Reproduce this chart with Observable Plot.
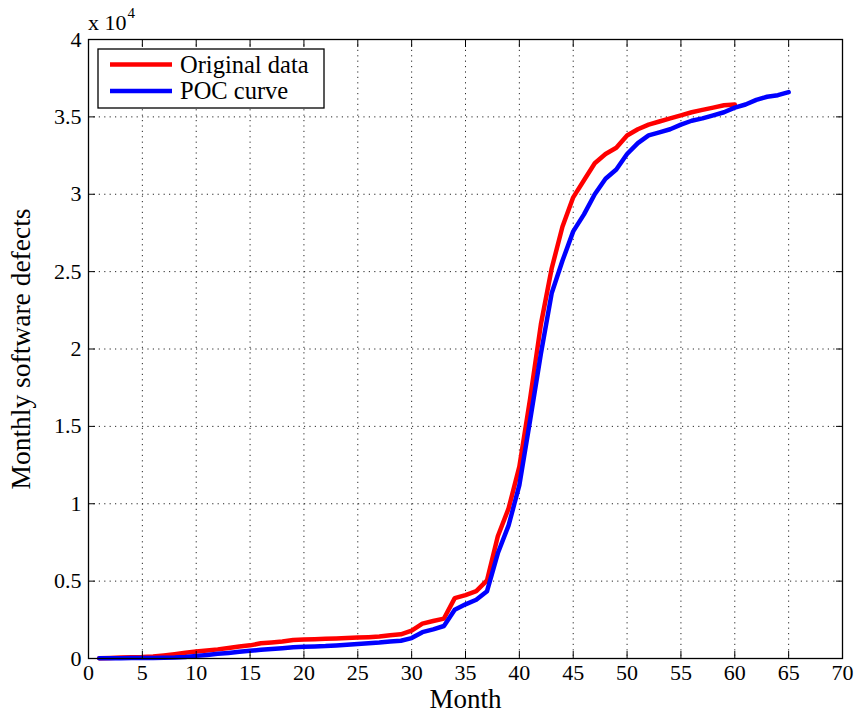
<!DOCTYPE html>
<html><head><meta charset="utf-8">
<script src="https://cdn.jsdelivr.net/npm/d3@7"></script>
<script src="https://cdn.jsdelivr.net/npm/@observablehq/plot@0.6"></script>
<style>body{margin:0;background:#fff}#chart{width:857px;height:714px}</style>
</head><body><div id="chart"></div>
<script>
const monthsOriginal = d3.range(1, 61);
const originalData = [20, 40, 60, 75, 90, 130, 200, 280, 370, 450,
  520, 590, 680, 770, 850, 980, 1040, 1100, 1190, 1220,
  1240, 1270, 1290, 1320, 1350, 1380, 1420, 1500, 1560, 1800,
  2250, 2420, 2580, 3900, 4100, 4350, 5050, 7900, 9700, 12400,
  16800, 21600, 25200, 27900, 29800, 30900, 32000, 32600, 33000, 33800,
  34200, 34500, 34700, 34900, 35100, 35300, 35450, 35600, 35750, 35800];
const monthsPOC = d3.range(1, 66);
const pocCurve = [10, 15, 20, 25, 30, 40, 50, 60, 100, 170,
  230, 300, 360, 430, 500, 560, 610, 660, 720, 760,
  780, 800, 840, 890, 940, 980, 1030, 1100, 1150, 1320,
  1700, 1880, 2100, 3150, 3500, 3800, 4350, 6800, 8600, 11200,
  15400, 19700, 23600, 25700, 27600, 28700, 30000, 31000, 31600, 32600,
  33300, 33800, 34000, 34200, 34500, 34750, 34900, 35100, 35300, 35600,
  35800, 36100, 36300, 36400, 36600];
const seriesNames = ["Original data", "POC curve"];
const seriesColors = ["#ff0000", "#0000ff"];
const xTicks = d3.range(0, 71, 5);
const yTicks = d3.range(0, 40001, 5000);
const xLabel = "Month";
const yLabel = "Monthly software defects";
const exponentText = "x 10";
const exponent = "4";

const rows = [
  ...monthsOriginal.map((m, i) => ({month: m, defects: originalData[i], series: seriesNames[0]})),
  ...monthsPOC.map((m, i) => ({month: m, defects: pocCurve[i], series: seriesNames[1]}))
];

const font = "'Liberation Serif', 'DejaVu Serif', serif";
const yFmt = d => String(d / 10000);

const plot = Plot.plot({
  width: 857, height: 714,
  marginLeft: 88, marginRight: 15, marginTop: 39, marginBottom: 56,
  style: {fontFamily: font, fontSize: "22px", background: "#fff", color: "#000", overflow: "visible"},
  x: {domain: [0, 70]},
  y: {domain: [0, 40000]},
  color: {domain: seriesNames, range: seriesColors},
  marks: [
    Plot.gridX(xTicks.slice(1, -1), {stroke: "#000", strokeOpacity: 0.85, strokeDasharray: "1.2,4.2"}),
    Plot.gridY(yTicks.slice(1, -1), {stroke: "#000", strokeOpacity: 0.85, strokeDasharray: "1.2,4.2"}),
    Plot.line(rows, {x: "month", y: "defects", z: "series", stroke: "series", strokeWidth: 4.5, strokeLinejoin: "round"}),
    Plot.axisX(xTicks, {anchor: "bottom", tickSize: -7, fill: "none", label: null}),
    Plot.axisX(xTicks, {anchor: "top", tickSize: -7, fill: "none", label: null}),
    Plot.axisY(yTicks, {anchor: "left", tickSize: -7, fill: "none", label: null}),
    Plot.axisY(yTicks, {anchor: "right", tickSize: -7, fill: "none", label: null}),
    Plot.axisX(xTicks, {anchor: "bottom", tickSize: 0, tickPadding: 6, fontSize: 22, fontFamily: font, label: xLabel, labelAnchor: "center", labelOffset: 49, labelArrow: "none"}),
    Plot.axisY(yTicks, {anchor: "left", tickSize: 0, tickPadding: 7, tickFormat: yFmt, fontSize: 22, fontFamily: font, label: yLabel, labelAnchor: "center", labelOffset: 78, labelArrow: "none"}),
    Plot.frame({stroke: "#000", strokeWidth: 1.3})
  ]
});
document.getElementById("chart").appendChild(plot);

const svg = d3.select(plot);
svg.selectAll("text").style("font-family", font);
svg.selectAll("g[aria-label='x-axis label'] text").attr("font-size", 27);
svg.selectAll("g[aria-label='y-axis label'] text").attr("font-size", 27.5);

// exponent marker
const ex = svg.append("text").attr("x", 88).attr("y", 30).attr("text-anchor", "start")
  .style("font-family", font).attr("font-size", 22).attr("fill", "#000");
ex.append("tspan").text(exponentText);
ex.append("tspan").attr("font-size", 15).attr("dy", -12).attr("dx", 1).text(exponent);

// legend
const lg = svg.append("g").style("font-family", font).attr("font-size", 24.5).attr("text-anchor", "start");
lg.append("rect").attr("x", 98).attr("y", 49).attr("width", 226).attr("height", 59).attr("fill", "#fff").attr("stroke", "#000").attr("stroke-width", 1.3);
seriesNames.forEach((name, i) => {
  const yy = 64.5 + i * 26.5;
  lg.append("line").attr("x1", 110).attr("x2", 172).attr("y1", yy).attr("y2", yy).attr("stroke", seriesColors[i]).attr("stroke-width", 4.5);
  lg.append("text").attr("x", 180).attr("y", yy + 8).attr("fill", "#000").style("font-family", font).text(name);
});
</script>
</body></html>
